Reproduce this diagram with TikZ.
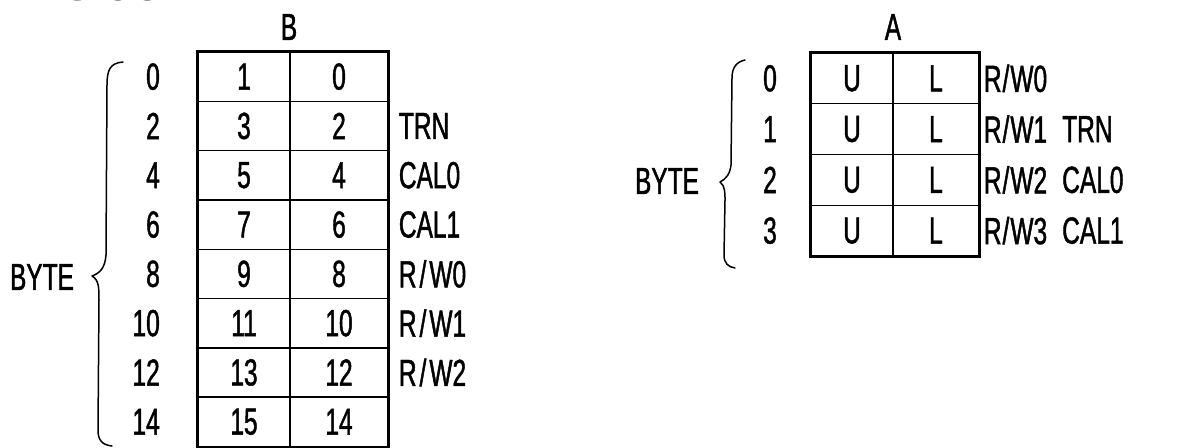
\documentclass[tikz,border=0pt]{standalone}
\usepackage{fontspec}
\setmainfont{Liberation Sans}[FakeStretch=0.65,FakeBold=1.2]
\newfontfamily\figfont{Liberation Sans}
\tikzset{
  lbl/.style={font=\fontsize{37.7}{40}\selectfont, inner sep=0pt},
  cell/.style={draw, line width=1.4pt, inner sep=0pt, lbl},
  outer/.style={line width=3pt},
  brace/.style={line width=1.5pt, line cap=round, line join=round},
}
\newcommand{\rw}[1]{R\kern3pt/\kern3pt W#1}
\begin{document}
\begin{tikzpicture}[x=1pt,y=-1pt]
\useasboundingbox (0,0) rectangle (1199,447);
% cropped figure caption
\begin{scope}
\clip (0,0) rectangle (1199,447);
\node[anchor=base west, inner sep=0pt, font={\figfont\bfseries\itshape\fontsize{44}{48}\selectfont}] (fig) at (22,0) {FIG.3C.};
\end{scope}
% ---------- table B ----------
\node[lbl] (titleB) at (289,27) {B};
\foreach \r in {0,...,7}{
  \pgfmathsetmacro{\cy}{52+49.3*\r+24.65}
  \pgfmathtruncatemacro{\lo}{2*\r}
  \pgfmathtruncatemacro{\hi}{2*\r+1}
  \node[cell, minimum width=92pt, minimum height=49.3pt] (bl\r) at (244,\cy) {\hi};
  \node[cell, minimum width=98pt, minimum height=49.3pt] (br\r) at (339,\cy) {\lo};
  \node[lbl, anchor=east] (ba\r) at (160,\cy) {\lo};
}
\draw[outer] (bl0.north west) rectangle (br7.south east);
\foreach \r/\t in {1/TRN,2/CAL0,3/CAL1,4/\rw{0},5/\rw{1},6/\rw{2}}{
  \node[lbl, anchor=west] (bt\r) at ([xshift=10pt]br\r.east) {\t};
}
\node[lbl] (byteB) at (42,277) {BYTE};
\draw[brace] (123,62) .. controls (110,63) and (107,70) .. (107,85)
  -- (106,255) .. controls (105,268) and (100,273) .. (92,276)
  .. controls (99,280) and (99,288) .. (99,300)
  -- (98,430) .. controls (98,440) and (102,445) .. (112,446);
% ---------- table A ----------
\node[lbl] (titleA) at (893,27) {A};
\foreach \r in {0,...,3}{
  \pgfmathsetmacro{\cy}{53+50.75*\r+25.375}
  \node[cell, minimum width=82pt, minimum height=50.75pt] (au\r) at (852,\cy) {U};
  \node[cell, minimum width=86pt, minimum height=50.75pt] (al\r) at (936,\cy) {L};
  \node[lbl, anchor=east] (aa\r) at (777,\cy) {\r};
  \node[lbl, anchor=west] (aw\r) at ([xshift=4pt]al\r.east) {R\kern1pt/\kern1pt W\r};
}
\draw[outer] (au0.north west) rectangle (al3.south east);
\foreach \r/\t in {1/TRN,2/CAL0,3/CAL1}{
  \node[lbl, anchor=west] (at\r) at (1062,{53+50.75*\r+25.375}) {\t};
}
\node[lbl] (byteA) at (667,181) {BYTE};
\draw[brace] (745,60) .. controls (736,62) and (732,68) .. (732,78)
  -- (731,165) .. controls (730,174) and (726,179) .. (720,182)
  .. controls (725,186) and (725,192) .. (725,200)
  -- (724,255) .. controls (724,263) and (728,267) .. (735,268);
\end{tikzpicture}
\end{document}
